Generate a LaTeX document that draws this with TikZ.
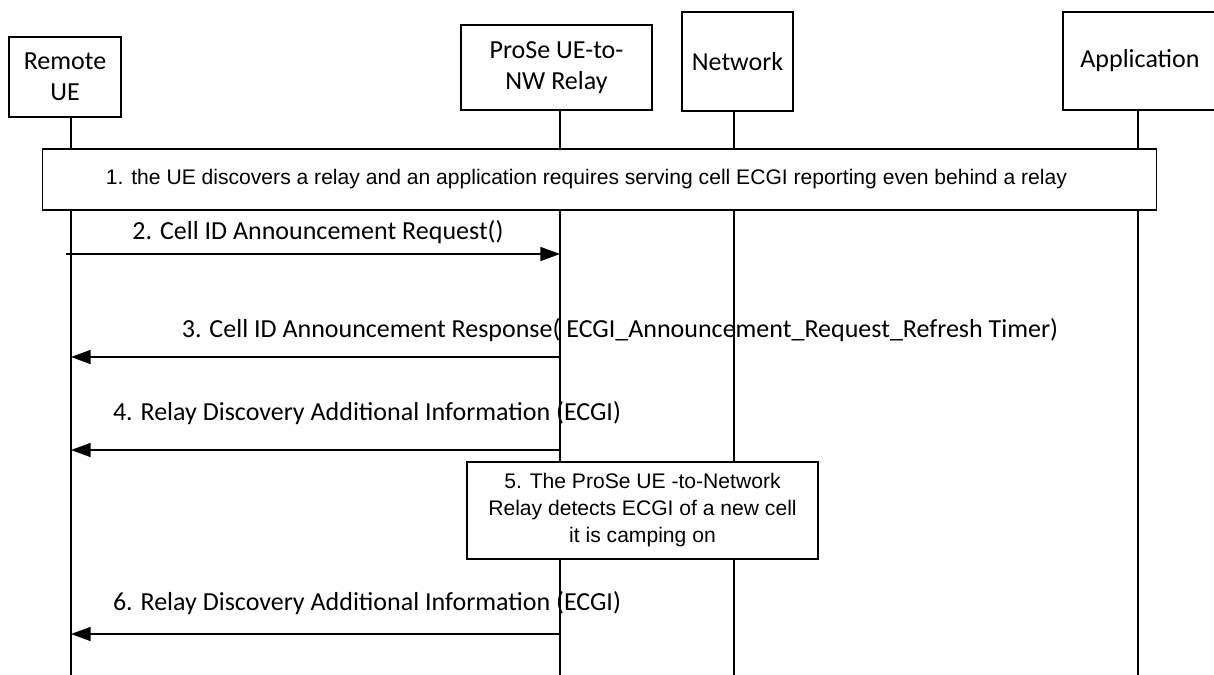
\documentclass[tikz,border=0pt]{standalone}
\usepackage{fontspec}
\setmainfont{Carlito}
\newfontfamily\arialfont{Liberation Sans}
\usetikzlibrary{arrows.meta}

\begin{document}
\begin{tikzpicture}[x=0.025cm,y=-0.025cm,
    actor/.style={draw,line width=0.9pt,fill=white,align=center,inner sep=0pt,font=\fontsize{18.5}{22}\selectfont},
    lifeline/.style={line width=0.8pt},
    msg/.style={line width=1pt,-{Triangle[length=14pt,width=10pt]}},
    lbl/.style={anchor=base,inner sep=0pt,font=\fontsize{18.5}{22}\selectfont},
    note/.style={draw,line width=0.9pt,fill=white,align=center,inner sep=0pt,font=\arialfont\fontsize{15}{19.2}\selectfont}]
    \useasboundingbox (0,0) rectangle (1214,675);
    \clip (0,0) rectangle (1214,675);

    % Entities
    \node[actor,minimum width=2.8cm,minimum height=2cm] (ue) at (65,77) {Remote\\UE};
    \node[actor,minimum width=4.775cm,minimum height=2.125cm] (relay) at (556.5,67.5) {ProSe UE-to-\\NW Relay};
    \node[actor,minimum width=2.775cm,minimum height=2.475cm] (nw) at (737.5,61.5) {Network};
    \node[actor,minimum width=3.85cm,minimum height=2.45cm] (app) at (1140,61) {Application};

    % Lifelines
    \coordinate (ueL) at (71,117);
    \coordinate (relayL) at (560,110);
    \coordinate (nwL) at (734,111);
    \coordinate (appL) at (1138,110);
    \foreach \n in {ueL,relayL,nwL,appL}
        \draw[lifeline] (\n) -- (\n |- 0,675);

    % Step 1
    \node[note,minimum width=27.825cm,minimum height=1.525cm] (s1) at (599.5,179.5)
        {1. the UE discovers a relay and an application requires serving cell ECGI reporting even behind a relay\hspace*{0.65cm}};

    % Messages
    \node[lbl] (m2) at (318,240) {2. Cell ID Announcement Request()};
    \draw[msg] ([xshift=-0.125cm]ueL |- 0,254) -- (relayL |- 0,254);

    \node[lbl] (m3) at (620,337) {3. Cell ID Announcement Response( ECGI\_Announcement\_Request\_Refresh Timer)};
    \draw[msg] (relayL |- 0,357) -- (ueL |- 0,357);

    \node[lbl] (m4) at (367,420) {4. Relay Discovery Additional Information (ECGI)};
    \draw[msg] (relayL |- 0,450) -- (ueL |- 0,450);

    % Step 5
    \node[note,minimum width=8.775cm,minimum height=2.425cm] (s5) at (642.5,510.5)
        {5. The ProSe UE -to-Network\\Relay detects ECGI of a new cell\\it is camping on};

    \node[lbl] (m6) at (367,610) {6. Relay Discovery Additional Information (ECGI)};
    \draw[msg] (relayL |- 0,634) -- (ueL |- 0,634);
\end{tikzpicture}
\end{document}
